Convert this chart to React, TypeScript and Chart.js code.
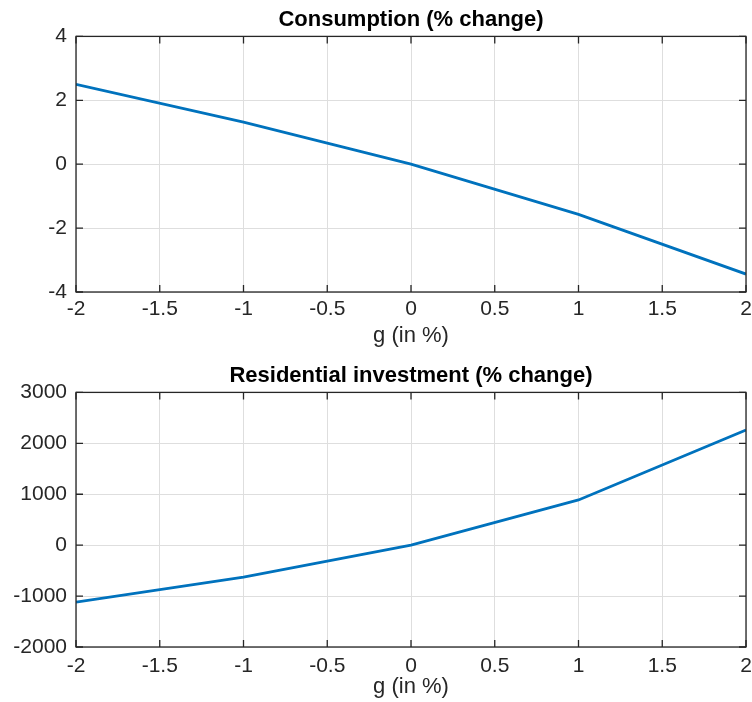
import React, { useEffect, useRef } from "react";
import { Chart, registerables } from "chart.js";

Chart.register(...registerables);

// ---- Data ----
const gValues = [-2, -1, 0, 1, 2];
const consumption = [2.5, 1.32, 0, -1.57, -3.44];
const residentialInvestment = [-1118, -627, 0, 888, 2260];
const xTickValues = [-2, -1.5, -1, -0.5, 0, 0.5, 1, 1.5, 2];
const consumptionTicks = [-4, -2, 0, 2, 4];
const investmentTicks = [-2000, -1000, 0, 1000, 2000, 3000];
const panelTitles = ["Consumption (% change)", "Residential investment (% change)"];
const xAxisLabel = "g (in %)";

const FONT = "'Liberation Sans', Arial, Helvetica, sans-serif";
const AXIS_COLOR = "#262626";
const GRID_COLOR = "#dedede";
const LINE_COLOR = "#0072BD";

const framePlugin = {
  id: "matlabFrame",
  afterDatasetsDraw(chart: any) {
    const { ctx, chartArea: a, scales } = chart;
    const tl = 7;
    ctx.save();
    ctx.strokeStyle = AXIS_COLOR;
    ctx.lineWidth = 1.3;
    ctx.beginPath();
    scales.x.ticks.forEach((t: any) => {
      const px = scales.x.getPixelForValue(t.value);
      ctx.moveTo(px, a.bottom);
      ctx.lineTo(px, a.bottom - tl);
      ctx.moveTo(px, a.top);
      ctx.lineTo(px, a.top + tl);
    });
    scales.y.ticks.forEach((t: any) => {
      const py = scales.y.getPixelForValue(t.value);
      ctx.moveTo(a.left, py);
      ctx.lineTo(a.left + tl, py);
      ctx.moveTo(a.right, py);
      ctx.lineTo(a.right - tl, py);
    });
    ctx.stroke();
    ctx.strokeRect(a.left, a.top, a.right - a.left, a.bottom - a.top);
    ctx.restore();
  },
};

type PanelProps = {
  values: number[];
  yTicks: number[];
  title: string;
  titlePadTop: number;
  titlePadBottom: number;
  xAxisHeight: number;
  xTickPad: number;
};

function Panel(props: PanelProps) {
  const ref = useRef<HTMLCanvasElement | null>(null);
  useEffect(() => {
    if (!ref.current) return;
    const yMin = Math.min(...props.yTicks);
    const yMax = Math.max(...props.yTicks);
    const chart = new Chart(ref.current, {
      type: "line",
      data: {
        datasets: [
          {
            data: gValues.map((g, i) => ({ x: g, y: props.values[i] })),
            borderColor: LINE_COLOR,
            borderWidth: 2.8,
            pointRadius: 0,
            tension: 0,
            fill: false,
          },
        ],
      },
      options: {
        responsive: false,
        animation: false,
        events: [],
        layout: { padding: { left: 0, right: 6, top: 0, bottom: 0 } },
        plugins: {
          legend: { display: false },
          tooltip: { enabled: false },
          title: {
            display: true,
            text: props.title,
            fullSize: false,
            color: "#000",
            font: { family: FONT, size: 22, weight: "bold" },
            padding: { top: props.titlePadTop, bottom: props.titlePadBottom },
          },
        },
        scales: {
          x: {
            type: "linear",
            min: -2,
            max: 2,
            afterBuildTicks: (scale: any) => {
              scale.ticks = xTickValues.map((v) => ({ value: v }));
            },
            afterFit: (scale: any) => {
              scale.height = props.xAxisHeight;
              scale.paddingLeft = 0;
              scale.paddingRight = 0;
            },
            grid: { color: GRID_COLOR, lineWidth: 1, drawTicks: false },
            border: { display: false },
            ticks: {
              color: AXIS_COLOR,
              font: { family: FONT, size: 21 },
              padding: props.xTickPad,
              maxRotation: 0,
              autoSkip: false,
              callback: (v: any) => String(v),
            },
            title: {
              display: true,
              text: xAxisLabel,
              color: AXIS_COLOR,
              font: { family: FONT, size: 22 },
              padding: { top: 0, bottom: 2 },
            },
          },
          y: {
            type: "linear",
            min: yMin,
            max: yMax,
            afterBuildTicks: (scale: any) => {
              scale.ticks = props.yTicks.map((v) => ({ value: v }));
            },
            afterFit: (scale: any) => {
              scale.width = 76;
              scale.paddingTop = 0;
              scale.paddingBottom = 0;
            },
            grid: { color: GRID_COLOR, lineWidth: 1, drawTicks: false },
            border: { display: false },
            ticks: {
              color: AXIS_COLOR,
              font: { family: FONT, size: 21 },
              padding: 9,
              autoSkip: false,
              callback: (v: any) => String(v),
            },
          },
        },
      },
      plugins: [framePlugin],
    });
    return () => chart.destroy();
  }, []);
  return <canvas ref={ref} width={752} height={351} style={{ display: "block" }} />;
}

export default function App() {
  return (
    <div style={{ position: "absolute", left: 0, top: 0, width: 752, height: 702, background: "#fff" }}>
      <Panel
        values={consumption}
        yTicks={consumptionTicks}
        title={panelTitles[0]}
        titlePadTop={7}
        titlePadBottom={3}
        xAxisHeight={59}
        xTickPad={5}
      />
      <Panel
        values={residentialInvestment}
        yTicks={investmentTicks}
        title={panelTitles[1]}
        titlePadTop={12}
        titlePadBottom={3}
        xAxisHeight={55}
        xTickPad={7}
      />
    </div>
  );
}
